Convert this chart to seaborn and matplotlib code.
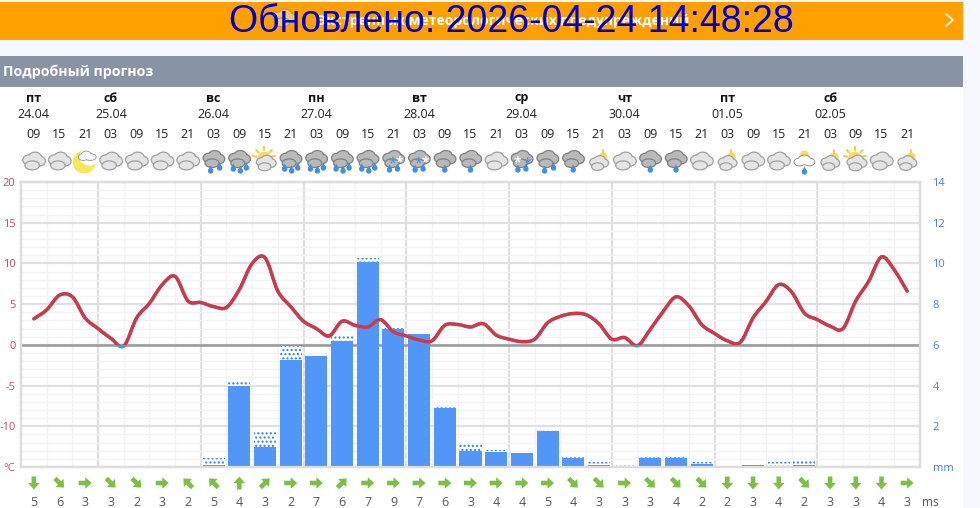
# Forecast page: temperature line, rain bars, icons and wind row
import numpy as np
import pandas as pd
import matplotlib
matplotlib.use('Agg')
import matplotlib.pyplot as plt
from matplotlib.patches import Rectangle, Ellipse, Polygon, FancyArrow, PathPatch
from matplotlib.path import Path
from matplotlib.ticker import FixedLocator, FixedFormatter
import seaborn as sns

# ---------------- data ----------------
hours = ['09', '15', '21', '03'] + ['09', '15', '21', '03'] * 7 + ['09', '15', '21']
weekdays = ['пт', 'сб', 'вс', 'пн', 'вт', 'ср', 'чт', 'пт', 'сб']
dates = ['24.04', '25.04', '26.04', '27.04', '28.04', '29.04', '30.04', '01.05', '02.05']
date_slots = [0, 3, 7, 11, 15, 19, 23, 27, 31]

# temperature, read every half slot (3 hours)
temp = [3.2, 4.3, 6.1, 5.9, 3.3, 2.0, 0.8, -0.15, 3.3, 5.1, 7.4, 8.4, 5.4, 5.2, 4.7, 4.6, 6.8,
        10.0, 10.7, 6.6, 4.7, 2.9, 2.0, 1.1, 2.9, 2.4, 2.2, 3.1, 1.6, 1.1, 0.6, 0.5, 2.4, 2.5,
        2.2, 2.6, 1.2, 0.7, 0.4, 0.7, 2.7, 3.5, 3.85, 3.7, 2.6, 0.7, 0.9, -0.1, 1.9, 4.1, 5.9,
        4.8, 2.5, 1.4, 0.5, 0.3, 3.3, 5.3, 7.4, 6.5, 3.9, 3.1, 2.3, 2.0, 5.4, 7.8, 10.8, 9.2, 6.6]

# rain in mm: solid part and upper (dotted) limit
rain = [0, 0, 0, 0, 0, 0, 0, 0.1, 4.0, 0.98, 5.27, 5.46, 6.2, 10.07, 6.77, 6.52, 2.88, 0.8,
        0.72, 0.68, 1.77, 0.44, 0.1, 0.05, 0.44, 0.44, 0.16, 0, 0.1, 0.02, 0.08, 0, 0, 0, 0]
rain_max = [0, 0, 0, 0, 0, 0, 0, 0.42, 4.2, 1.72, 5.95, 5.46, 6.44, 10.26, 6.85, 6.52, 3.05, 1.12,
            0.83, 0.68, 1.84, 0.52, 0.24, 0.1, 0.52, 0.52, 0.26, 0, 0.1, 0.24, 0.35, 0, 0, 0, 0]

wind_speed = [5, 6, 3, 3, 2, 3, 2, 5, 4, 3, 2, 7, 6, 7, 9, 7, 6, 3,
              4, 4, 5, 4, 3, 3, 3, 4, 2, 2, 3, 4, 2, 3, 3, 4, 3]
wind_dir = ['S', 'SE', 'E', 'SE', 'SE', 'E', 'NW', 'NW', 'N', 'NE', 'E', 'E', 'NE', 'E', 'E', 'E', 'E', 'E',
            'E', 'E', 'E', 'SE', 'SE', 'E', 'SE', 'SE', 'SE', 'S', 'S', 'S', 'SE', 'S', 'S', 'S', 'E']

# c cloud, m moon, b big sun, s small sun, w white cloud + drop, d1/d3 dark + drops, n snow, x mix
icons = ['c', 'c', 'm', 'c', 'c', 'c', 'c', 'd2', 'd3', 'b', 'd3', 'd3', 'd3', 'd3', 'n', 'n', 'd1', 'd1',
         'c', 'x', 'd2', 'd1', 's', 'c', 'd1', 'd1', 'c', 's', 'c', 'c', 'w', 's', 'b', 'c', 's']

temp_ticks = [20, 15, 10, 5, 0, -5, -10, -15]
temp_labels = ['20', '15', '10', '5', '0', '-5', '-10', '°C']
mm_ticks = [14, 12, 10, 8, 6, 4, 2, 0]
mm_labels = ['14', '12', '10', '8', '6', '4', '2', 'mm']

# ---------------- setup ----------------
sns.set_theme(style='white')
plt.rcParams['font.family'] = ['Open Sans', 'DejaVu Sans']
plt.rcParams['hatch.linewidth'] = 1.0

W, H = 980, 508
fig = plt.figure(figsize=(W / 100, H / 100), dpi=100, facecolor='#f5f8fc')

# page layer in pixel coordinates
page = fig.add_axes([0, 0, 1, 1], zorder=0)
page.set_xlim(0, W)
page.set_ylim(H, 0)
page.axis('off')

SLOT = 899 / 35
def slot_x(i):
    return 21 + SLOT * (i + 0.5)

page.add_patch(Rectangle((0, 87), 963, 421, color='white', lw=0))
page.add_patch(Rectangle((0, 2), 963, 38, color='#ffa000', lw=0))
page.add_patch(Rectangle((0, 56), 963, 31, color='#8893a3', lw=0))
page.text(3, 72, 'Подробный прогноз', color='white', fontsize=10.2, fontweight='bold', va='center')


def blob(parts, fill, edge, lw=1.8):
    # a cloud is a few ellipses, outlined first and then filled over
    for x, y, w, h in parts:
        page.add_patch(Ellipse((x, y), w, h, fc=edge, ec=edge, lw=lw, zorder=3))
    for x, y, w, h in parts:
        page.add_patch(Ellipse((x, y), w, h, fc=fill, ec='none', lw=0, zorder=3))


def cloud(cx, cy, fill='#e4e4e4', edge='#a0a0a0', k=1.1):
    blob([(cx + 1 * k, cy - 3 * k, 11 * k, 9 * k), (cx - 4 * k, cy - 1 * k, 11 * k, 8 * k),
          (cx + 5 * k, cy, 10 * k, 8 * k)], fill, edge)
    blob([(cx - 1.5 * k, cy + 4 * k, 12 * k, 7 * k)], fill, edge)


def drop(x, y, col='#3f8fe6'):
    page.add_patch(Ellipse((x, y + 1), 5.4, 5.4, fc=col, ec='none', zorder=4))
    page.add_patch(Polygon([(x - 2.4, y), (x + 2.4, y), (x, y - 4.5)], fc=col, ec='none', zorder=4))


def sun(x, y, r, rays=True):
    if rays:
        for a in np.radians([-170, -135, -90, -45, -10]):
            page.plot([x + r * 1.2 * np.cos(a), x + r * 1.7 * np.cos(a)],
                      [y + r * 1.2 * np.sin(a), y + r * 1.7 * np.sin(a)],
                      color='#f2cf45', lw=1.6, zorder=2)
    page.add_patch(Ellipse((x, y), 2 * r, 2 * r, fc='#f7dc60', ec='none', zorder=2))


def weather_icon(kind, cx, cy=161):
    if kind == 'c':
        cloud(cx, cy)
    elif kind == 'm':
        page.add_patch(Ellipse((cx - 1, cy + 1), 23, 23, fc='#f7e65a', ec='none', zorder=2))
        page.add_patch(Ellipse((cx + 4, cy - 4), 20, 17, fc='white', ec='none', zorder=2))
        blob([(cx + 1, cy - 6, 9, 7), (cx + 5, cy - 4, 11, 6), (cx - 2, cy - 4, 9, 6)], 'white', '#8f8f8f', 1.2)
    elif kind == 'b':
        sun(cx - 1, cy - 3, 6.5)
        cloud(cx + 1, cy + 2, k=0.95)
    elif kind == 's':
        sun(cx + 4, cy - 4, 4.5, rays=False)
        page.plot([cx + 4, cx + 4], [cy - 11, cy - 8], color='#f2cf45', lw=1.4, zorder=2)
        cloud(cx, cy + 2, fill='#e4e4e4', k=0.9)
    elif kind == 'w':
        sun(cx, cy - 6, 4.5, rays=False)
        blob([(cx - 5, cy + 1, 10, 7), (cx, cy - 1, 12, 9), (cx + 5, cy + 1, 10, 7)], 'white', '#7f7f7f', 1.2)
        drop(cx, cy + 10)
    else:
        cloud(cx, cy - 2, fill='#b9b9b9', edge='#7f7f7f', k=1.05)
        if kind == 'd1':
            drop(cx, cy + 8)
        elif kind == 'd2':
            drop(cx - 3, cy + 9)
            drop(cx + 6, cy + 6)
        elif kind == 'd3':
            drop(cx - 6, cy + 7)
            drop(cx + 1, cy + 9)
            drop(cx + 7, cy + 6)
        else:
            drop(cx - 4, cy + 8)
            drop(cx + 4, cy + 7)
            page.text(cx - 1 if kind == 'n' else cx + 5, cy + 3, '*', color='#3f8fe6',
                      fontsize=10, ha='center', va='center', zorder=5)
            page.text(cx + 6 if kind == 'n' else cx - 5, cy + 1, '*', color='white',
                      fontsize=10, fontweight='bold', ha='center', va='center', zorder=5)


# ---------------- banner ----------------
cloud(284, 18, fill='#ffc55e', edge='#a89a70', k=1.1)
page.text(503, 21, 'Экстренных метеорологических предупреждений', color='white',
          fontsize=10, fontweight='bold', ha='center', va='center', zorder=5)
page.text(511, 32, 'Обновлено: 2026-04-24 14:48:28', color='#0000cd', fontsize=27,
          family=['Liberation Sans', 'DejaVu Sans'], ha='center', va='baseline', zorder=6)
page.plot([946, 953, 946], [14, 20, 26], color='white', lw=1.2, zorder=5)

# ---------------- header rows ----------------
for slot, wd, d in zip(date_slots, weekdays, dates):
    page.text(slot_x(slot), 98, wd, fontsize=9, fontweight='bold', color='#111111', ha='center', va='center')
    page.text(slot_x(slot), 115, d, fontsize=9, color='#222222', ha='center', va='center')
for i, h in enumerate(hours):
    page.text(slot_x(i), 135, h, fontsize=9, color='#222222', ha='center', va='center')
for i, kind in enumerate(icons):
    weather_icon(kind, slot_x(i))

# ---------------- chart ----------------
rect = [21 / W, 1 - 467 / H, 899 / W, 285 / H]
ax_mm = fig.add_axes(rect, zorder=1)
ax = ax_mm.twinx()
ax.set_zorder(2)
ax.patch.set_visible(False)
ax_mm.patch.set_facecolor('white')

slots = np.arange(35)
rain_df = pd.DataFrame({'slot': slots, 'rain': rain, 'rain_max': rain_max})

# dotted upper limit first, solid rain on top
sns.barplot(data=rain_df, x='slot', y='rain_max', native_scale=True, ax=ax_mm, width=0.857,
            color='white', edgecolor='#2f7fe8', hatch='....', linewidth=0, saturation=1,
            errorbar=None, zorder=3)
sns.barplot(data=rain_df, x='slot', y='rain', native_scale=True, ax=ax_mm, width=0.857,
            color='#5296f7', linewidth=0, saturation=1, errorbar=None, zorder=4)

# temperature: red above zero, blue below
temp_df = pd.DataFrame({'slot': np.arange(len(temp)) / 2, 'temp': temp})
sns.lineplot(data=temp_df, x='slot', y='temp', ax=ax, sort=False, estimator=None, color='#29a9e0',
             linewidth=2.4, solid_joinstyle='round', solid_capstyle='round')
sns.lineplot(data=temp_df, x='slot', y='temp', ax=ax, sort=False, estimator=None, color='#d63545',
             linewidth=2.4, solid_joinstyle='round', solid_capstyle='round')
zero_clip = Rectangle((-1, 0), 40, 30, transform=ax.transData)


def round_line(line, clip=None):
    # the site draws a spline through the points, so bend the drawn line the same way
    pts = line.get_xydata()
    verts = [tuple(pts[0])]
    for i in range(len(pts) - 1):
        p0, p1 = pts[max(i - 1, 0)], pts[i]
        p2, p3 = pts[i + 1], pts[min(i + 2, len(pts) - 1)]
        verts += [tuple(p1 + (p2 - p0) / 6), tuple(p2 - (p3 - p1) / 6), tuple(p2)]
    codes = [Path.MOVETO] + [Path.CURVE4] * (len(verts) - 1)
    patch = PathPatch(Path(verts, codes), fc='none', ec=line.get_color(), lw=line.get_linewidth(),
                      capstyle='round', joinstyle='round', zorder=line.get_zorder())
    ax.add_patch(patch)
    line.set_visible(False)
    if clip is not None:
        patch.set_clip_path(clip)


round_line(ax.lines[0])
round_line(ax.lines[1], zero_clip)

for a in (ax, ax_mm):
    a.set_xlim(-0.5, 34.5)
    a.set_xlabel('')
    a.set_ylabel('')
    for s in a.spines.values():
        s.set_color('#dddddd')
        s.set_linewidth(1.6)
ax.set_ylim(-15, 20)
ax_mm.set_ylim(0, 14)

# grid sits on the mm axes so the bars cover it
ax_mm.xaxis.set_major_locator(FixedLocator(np.arange(2.5, 34, 4)))
ax_mm.xaxis.set_minor_locator(FixedLocator(np.arange(0.5, 34, 1)))
ax_mm.yaxis.set_major_locator(FixedLocator(mm_ticks))
ax_mm.yaxis.set_minor_locator(FixedLocator(np.arange(0, 14.01, 0.4)))
ax_mm.grid(True, which='minor', color='#f3f3f3', lw=1.0, zorder=0)
ax_mm.grid(True, which='major', color='#e0e0e0', lw=1.6, zorder=1)
ax_mm.set_axisbelow(True)
ax_mm.axhline(6, color='#999999', lw=1.8, zorder=2)
ax_mm.tick_params(axis='x', which='both', length=0, labelbottom=False)
ax.tick_params(axis='x', which='both', length=0, labelbottom=False)

# temperature on the left, mm on the right
ax.yaxis.tick_left()
ax.yaxis.set_major_locator(FixedLocator(temp_ticks))
ax.yaxis.set_major_formatter(FixedFormatter(temp_labels))
ax.tick_params(axis='y', which='both', length=0, pad=4, labelsize=8, labelcolor='#c9485b')
ax_mm.yaxis.tick_right()
ax_mm.yaxis.set_major_formatter(FixedFormatter(mm_labels))
ax_mm.tick_params(axis='y', which='major', length=0, pad=9, labelsize=8, labelcolor='#4a7fd0')
ax_mm.tick_params(axis='y', which='minor', length=0)

# ---------------- wind row ----------------
vectors = {'N': (0, -1), 'S': (0, 1), 'E': (1, 0), 'SE': (0.71, 0.71), 'NE': (0.71, -0.71), 'NW': (-0.71, -0.71)}
for i, (spd, dr) in enumerate(zip(wind_speed, wind_dir)):
    dx, dy = vectors[dr]
    x, y = slot_x(i), 483
    page.add_patch(FancyArrow(x - 6.5 * dx, y - 6.5 * dy, 13 * dx, 13 * dy, width=4.6, head_width=11.5,
                              head_length=6.5, length_includes_head=True, color='#7ac143', lw=0))
    page.text(x, 502, str(spd), fontsize=9, color='#555555', ha='center', va='center')
page.text(930, 502, 'ms', fontsize=8.5, color='#555555', ha='center', va='center')

fig.savefig('out.png', dpi=100, facecolor=fig.get_facecolor())
